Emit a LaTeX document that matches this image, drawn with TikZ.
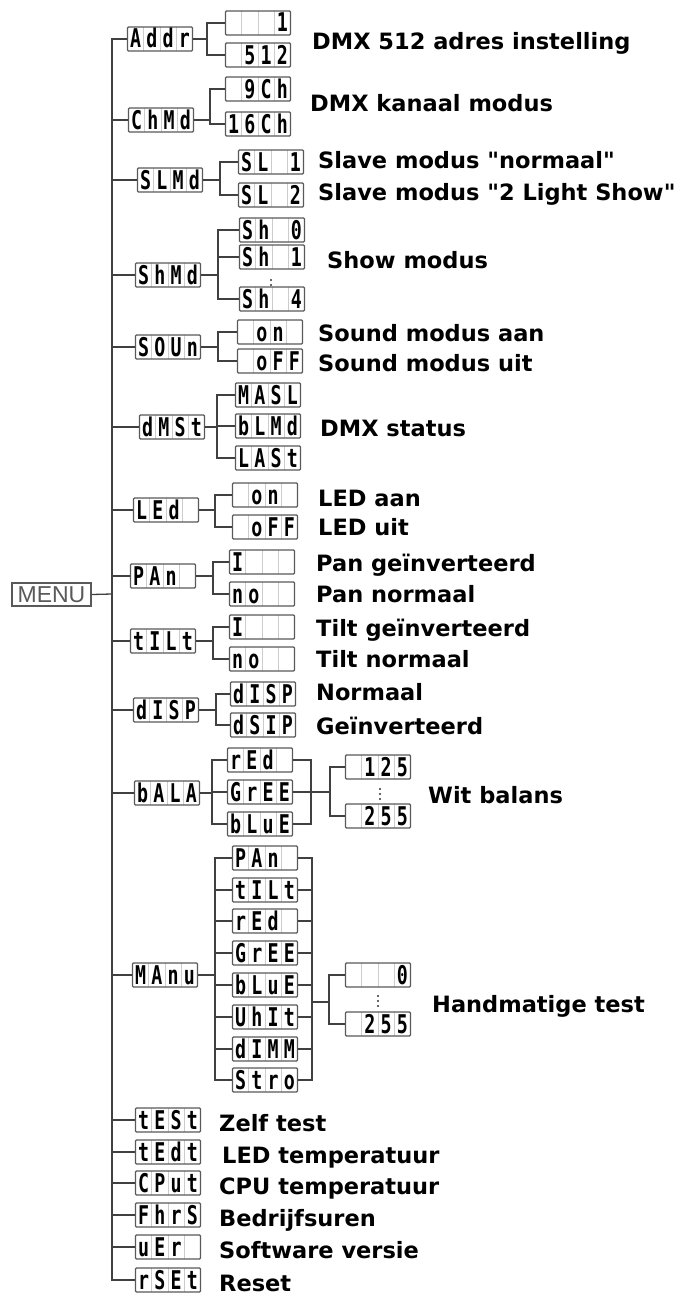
\documentclass[tikz,border=0pt]{standalone}
\usepackage{fontspec}
\setmainfont{DejaVu Sans}[Ligatures=TeXOff]
\newfontfamily\lcdfont{DejaVu Sans Mono}
\newfontfamily\menufont{Liberation Sans}
\usetikzlibrary{calc}
\newcommand\lcdc[1]{\makebox[16.25pt][c]{\scalebox{0.85}[1.2]{#1}}}
\newcommand\lcdt[4]{\lcdfont\bfseries\fontsize{21.5}{21.5}\selectfont\lcdc{#1}\lcdc{#2}\lcdc{#3}\lcdc{#4}}
\newcommand\lblfont{\fontsize{22.5}{22.5}\selectfont\bfseries}
\begin{document}
\begin{tikzpicture}[x=1pt,y=-1pt,
  lcd/.style={draw=black!65, line width=1.1pt, fill=white, rounded corners=1pt,
    minimum width=65pt, minimum height=24pt, inner sep=0pt, text height=20pt, text depth=2pt,
    path picture={\foreach \k in {1,2,3}{\draw[black!20, line width=0.8pt]
      ($(path picture bounding box.north west)!\k/4!(path picture bounding box.north east)$) --
      ($(path picture bounding box.south west)!\k/4!(path picture bounding box.south east)$);}}},
  lbl/.style={anchor=west, inner sep=0pt, text height=16pt, text depth=0pt, font=\lblfont},
  ln/.style={draw=black!75, line width=1.3pt},
  dotsty/.style={fill=black!80}]
\useasboundingbox (0,0) rectangle (687,1306);

% MENU and trunk
\node[draw=black!65, line width=1.2pt, fill=white, minimum width=79pt, minimum height=23pt, inner sep=0pt,
  font=\menufont\fontsize{23}{23}\selectfont, text=black!65] (MENU) at (51.5,594.5) {MENU};
\coordinate (tr) at (112,594);

% main entries
\node[lcd] (Addr) at (160,39) {\lcdt{A}{d}{d}{r}};
\node[lcd] (ChMd) at (161,120) {\lcdt{C}{h}{M}{d}};
\node[lcd] (SLMd) at (170,180) {\lcdt{S}{L}{M}{d}};
\node[lcd] (ShMd) at (168,275) {\lcdt{S}{h}{M}{d}};
\node[lcd] (SOUn) at (168,347) {\lcdt{S}{O}{U}{n}};
\node[lcd] (dMSt) at (172,427) {\lcdt{d}{M}{S}{t}};
\node[lcd] (LEd) at (166,510) {\lcdt{L}{E}{d}{}};
\node[lcd] (PAn) at (163,576) {\lcdt{P}{A}{n}{}};
\node[lcd] (tILt) at (163,641) {\lcdt{t}{I}{L}{t}};
\node[lcd] (dISP) at (166,710) {\lcdt{d}{I}{S}{P}};
\node[lcd] (bALA) at (167,793) {\lcdt{b}{A}{L}{A}};
\node[lcd] (MAnu) at (165,975) {\lcdt{M}{A}{n}{u}};
\node[lcd] (tESt) at (168,1120) {\lcdt{t}{E}{S}{t}};
\node[lcd] (tEdt) at (168,1152) {\lcdt{t}{E}{d}{t}};
\node[lcd] (CPut) at (168,1183) {\lcdt{C}{P}{u}{t}};
\node[lcd] (Fhrs) at (168,1215) {\lcdt{F}{h}{r}{S}};
\node[lcd] (uEr) at (168,1247) {\lcdt{u}{E}{r}{}};
\node[lcd] (rSEt) at (168,1280) {\lcdt{r}{S}{E}{t}};

\draw[ln] (MENU.east) -- (tr);
\draw[ln] (Addr.west) -| (tr) |- (rSEt.west);
\foreach \n in {ChMd,SLMd,ShMd,SOUn,dMSt,LEd,PAn,tILt,dISP,bALA,MAnu,tESt,tEdt,CPut,Fhrs,uEr}
  \draw[ln] (\n.west) -- (\n.west -| tr);

% Addr
\node[lcd] (a1) at (258,23) {\lcdt{}{}{}{1}};
\node[lcd] (a2) at (258,55) {\lcdt{}{5}{1}{2}};
\coordinate (jA) at (207,39);
\draw[ln] (Addr.east) -- (jA);
\draw[ln] (a1.west) -| (jA) |- (a2.west);
\node[lbl] (tA) at (312,42) {DMX 512 adres instelling};

% ChMd
\node[lcd] (c1) at (258,89) {\lcdt{}{9}{C}{h}};
\node[lcd] (c2) at (258,124) {\lcdt{1}{6}{C}{h}};
\coordinate (jC) at (210,120);
\draw[ln] (ChMd.east) -- (jC);
\draw[ln] (c1.west) -| (jC) |- (c2.west);
\node[lbl] (tC) at (310,103) {DMX kanaal modus};

% SLMd
\node[lcd] (s1) at (271,162) {\lcdt{S}{L}{}{1}};
\node[lcd] (s2) at (271,195) {\lcdt{S}{L}{}{2}};
\coordinate (jS) at (220,180);
\draw[ln] (SLMd.east) -- (jS);
\draw[ln] (s1.west) -| (jS) |- (s2.west);
\node[lbl] (tS1) at (318,160) {Slave modus "normaal"};
\node[lbl] (tS2) at (318,192) {Slave modus "2 Light Show"};

% ShMd
\node[lcd] (h0) at (272,230) {\lcdt{S}{h}{}{0}};
\node[lcd] (h1) at (272,257) {\lcdt{S}{h}{}{1}};
\node[lcd] (h4) at (272,299) {\lcdt{S}{h}{}{4}};
\coordinate (jH) at (218,275);
\draw[ln] (ShMd.east) -- (jH);
\draw[ln] (h0.west) -| (jH) |- (h4.west);
\draw[ln] (h1.west) -- (h1.west -| jH);
\fill[dotsty] (271,280) circle (1.1) (271,285) circle (1.1);
\node[lbl] (tH) at (327,260) {Show modus};

% SOUn
\node[lcd] (o1) at (270,332) {\lcdt{}{o}{n}{}};
\node[lcd] (o2) at (270,361) {\lcdt{}{o}{F}{F}};
\coordinate (jO) at (218,347);
\draw[ln] (SOUn.east) -- (jO);
\draw[ln] (o1.west) -| (jO) |- (o2.west);
\node[lbl] (tO1) at (318,333) {Sound modus aan};
\node[lbl] (tO2) at (318,363) {Sound modus uit};

% dMSt
\node[lcd] (d1) at (268,395) {\lcdt{M}{A}{S}{L}};
\node[lcd] (d2) at (268,426) {\lcdt{b}{L}{M}{d}};
\node[lcd] (d3) at (268,458) {\lcdt{L}{A}{S}{t}};
\coordinate (jD) at (217,427);
\draw[ln] (dMSt.east) -- (jD);
\draw[ln] (d1.west) -| (jD) |- (d3.west);
\draw[ln] (d2.west) -- (d2.west -| jD);
\node[lbl] (tD) at (320,428) {DMX status};

% LEd
\node[lcd] (l1) at (265,495) {\lcdt{}{o}{n}{}};
\node[lcd] (l2) at (265,527) {\lcdt{}{o}{F}{F}};
\coordinate (jL) at (215,510);
\draw[ln] (LEd.east) -- (jL);
\draw[ln] (l1.west) -| (jL) |- (l2.west);
\node[lbl] (tL1) at (318,498) {LED aan};
\node[lbl] (tL2) at (318,527) {LED uit};

% PAn
\node[lcd] (p1) at (262,562) {\lcdt{I}{}{}{}};
\node[lcd] (p2) at (262,594) {\lcdt{n}{o}{}{}};
\coordinate (jP) at (213,576);
\draw[ln] (PAn.east) -- (jP);
\draw[ln] (p1.west) -| (jP) |- (p2.west);
\node[lbl] (tP1) at (316,563) {Pan geïnverteerd};
\node[lbl] (tP2) at (316,594) {Pan normaal};

% tILt
\node[lcd] (t1) at (262,627) {\lcdt{I}{}{}{}};
\node[lcd] (t2) at (262,659) {\lcdt{n}{o}{}{}};
\coordinate (jT) at (213,641);
\draw[ln] (tILt.east) -- (jT);
\draw[ln] (t1.west) -| (jT) |- (t2.west);
\node[lbl] (tT1) at (316,628) {Tilt geïnverteerd};
\node[lbl] (tT2) at (316,659) {Tilt normaal};

% dISP
\node[lcd] (i1) at (263,694) {\lcdt{d}{I}{S}{P}};
\node[lcd] (i2) at (263,725) {\lcdt{d}{S}{I}{P}};
\coordinate (jI) at (216,710);
\draw[ln] (dISP.east) -- (jI);
\draw[ln] (i1.west) -| (jI) |- (i2.west);
\node[lbl] (tI1) at (316,692) {Normaal};
\node[lbl] (tI2) at (316,726) {Geïnverteerd};

% bALA
\node[lcd] (b1) at (260,760) {\lcdt{r}{E}{d}{}};
\node[lcd] (b2) at (260,792) {\lcdt{G}{r}{E}{E}};
\node[lcd] (b3) at (260,824) {\lcdt{b}{L}{u}{E}};
\coordinate (jB) at (212,793);
\coordinate (rB) at (311,792);
\coordinate (kB) at (330,792);
\draw[ln] (bALA.east) -- (jB);
\draw[ln] (b1.west) -| (jB) |- (b3.west);
\draw[ln] (b2.west) -- (b2.west -| jB);
\draw[ln] (b1.east) -| (rB) |- (b3.east);
\draw[ln] (b2.east) -- (kB);
\node[lcd] (w1) at (378,767) {\lcdt{}{1}{2}{5}};
\node[lcd] (w2) at (378,816) {\lcdt{}{2}{5}{5}};
\draw[ln] (w1.west) -| (kB) |- (w2.west);
\fill[dotsty] (380,789) circle (1.1) (380,794) circle (1.1) (380,799) circle (1.1);
\node[lbl] (tW) at (428,795) {Wit balans};

% MAnu
\node[lcd] (m1) at (265,858) {\lcdt{P}{A}{n}{}};
\node[lcd] (m2) at (265,890) {\lcdt{t}{I}{L}{t}};
\node[lcd] (m3) at (265,921) {\lcdt{r}{E}{d}{}};
\node[lcd] (m4) at (265,953) {\lcdt{G}{r}{E}{E}};
\node[lcd] (m5) at (265,985) {\lcdt{b}{L}{u}{E}};
\node[lcd] (m6) at (265,1017) {\lcdt{U}{h}{I}{t}};
\node[lcd] (m7) at (265,1049) {\lcdt{d}{I}{M}{M}};
\node[lcd] (m8) at (265,1080) {\lcdt{S}{t}{r}{o}};
\coordinate (jM) at (215,975);
\coordinate (rM) at (312,1002);
\coordinate (kM) at (329,1002);
\draw[ln] (MAnu.east) -- (jM);
\draw[ln] (m1.west) -| (jM) |- (m8.west);
\foreach \n in {m2,m3,m4,m5,m6,m7} \draw[ln] (\n.west) -- (\n.west -| jM);
\draw[ln] (m1.east) -| (rM) |- (m8.east);
\foreach \n in {m2,m3,m4,m5,m6,m7} \draw[ln] (\n.east) -- (\n.east -| rM);
\draw[ln] (rM) -- (kM);
\node[lcd] (v1) at (378,975) {\lcdt{}{}{}{0}};
\node[lcd] (v2) at (378,1024) {\lcdt{}{2}{5}{5}};
\draw[ln] (v1.west) -| (kM) |- (v2.west);
\fill[dotsty] (378,996) circle (1.1) (378,1001) circle (1.1) (378,1006) circle (1.1);
\node[lbl] (tM) at (432,1004) {Handmatige test};

% bottom labels
\node[lbl] (tZ) at (219,1123) {Zelf test};
\node[lbl] (tLT) at (222,1155) {LED temperatuur};
\node[lbl] (tCT) at (219,1186) {CPU temperatuur};
\node[lbl] (tB) at (219,1218) {Bedrijfsuren};
\node[lbl] (tSV) at (219,1250) {Software versie};
\node[lbl] (tR) at (219,1283) {Reset};
\end{tikzpicture}
\end{document}
